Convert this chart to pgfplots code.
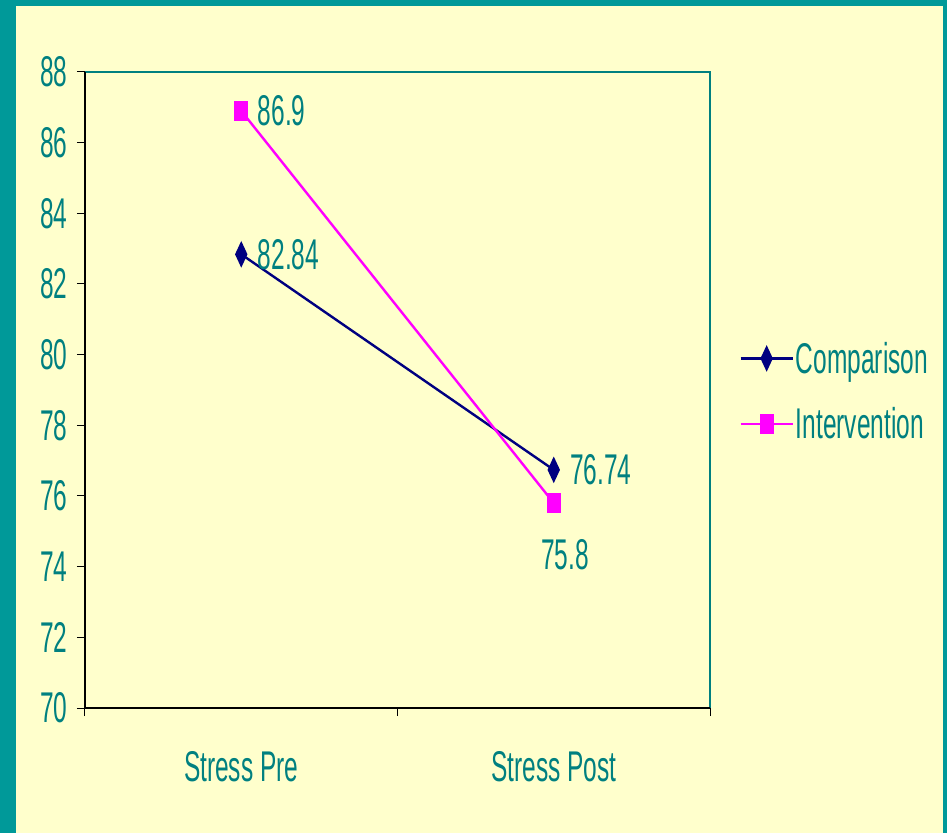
\documentclass[border=0pt]{standalone}
\usepackage{fontspec}
\setmainfont{Liberation Sans}[FakeStretch=0.57]
\usepackage{pgfplots}
\pgfplotsset{compat=1.18}
\definecolor{frameteal}{RGB}{0,153,153}
\definecolor{bgyellow}{RGB}{255,255,204}
\definecolor{txtteal}{RGB}{0,128,128}
\definecolor{navyc}{RGB}{0,0,128}
\definecolor{magc}{RGB}{255,0,255}
\begin{document}
\begin{tikzpicture}[x=1pt,y=1pt]
\fill[frameteal] (0,0) rectangle (947,833);
\fill[bgyellow] (16,0) rectangle (943,827);
\begin{axis}[
  at={(85pt,125pt)}, anchor=south west,
  scale only axis, width=625pt, height=636pt,
  xmin=0, xmax=2, ymin=70, ymax=88,
  ytick={70,72,...,88},
  xtick={0,1,2}, xticklabels={,,},
  extra x ticks={0.5,1.5},
  extra x tick labels={Stress Pre,Stress Post},
  extra x tick style={major tick length=0pt, xticklabel style={yshift=-40pt}},
  xtick pos=bottom, ytick pos=left,
  tick align=outside, major tick length=8pt,
  tick style={black, line width=1pt},
  axis line style={draw=none},
  /pgf/number format/assume math mode=true,
  ticklabel style={font=\fontsize{43}{50}\selectfont, text=txtteal},
  yticklabel style={xshift=-6pt},
  legend style={at={(1.042,0.498)}, anchor=west, draw=none, fill=none,
    font=\fontsize{43}{50}\selectfont, text=txtteal, row sep=29pt},
  legend cell align=left,
  legend image code/.code={\draw[mark repeat=2,mark phase=2] plot coordinates {(0pt,0pt)(26pt,0pt)(52pt,0pt)};},
  every node near coord/.append style={font=\fontsize{43}{50}\selectfont, text=txtteal, anchor=west, xshift=12pt},
  point meta=explicit symbolic,
  after end axis/.code={
    \draw[txtteal, line width=2pt] (rel axis cs:0,1)--(rel axis cs:1,1)--(rel axis cs:1,0);
    \draw[black, line width=1.5pt] (rel axis cs:0,1)--(rel axis cs:0,0)--(rel axis cs:1,0);
  },
]
\addplot[navyc, line width=2.4pt, mark=diamond*, mark size=10.5pt, mark options={xscale=0.62, solid, fill=navyc},
  nodes near coords]
  coordinates {(0.5,82.84) [82.84] (1.5,76.74) [76.74]};
\addlegendentry{Comparison}
\addplot[magc, line width=2.4pt, mark=square*, mark size=8.5pt, mark options={xscale=0.7, solid, fill=magc},
  nodes near coords,
  coordinate style/.condition={\coordindex==1}{xshift=-29pt, yshift=-52pt}]
  coordinates {(0.5,86.9) [86.9] (1.5,75.8) [75.8]};
\addlegendentry{Intervention}
\end{axis}
\end{tikzpicture}
\end{document}
